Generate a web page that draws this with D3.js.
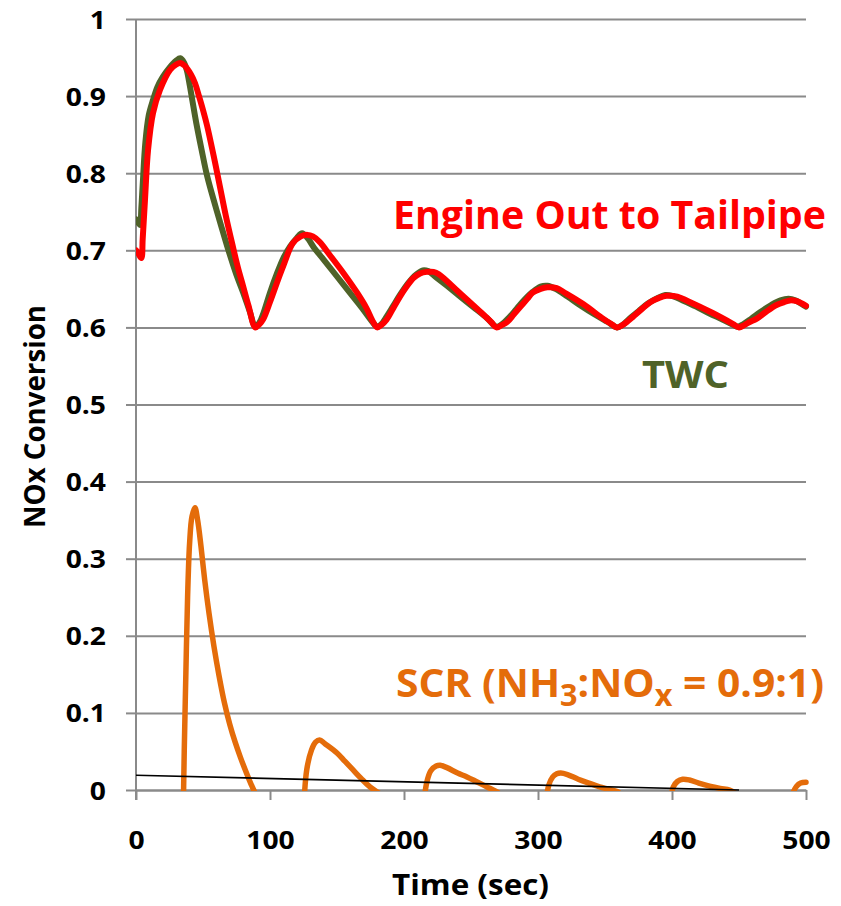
<!DOCTYPE html>
<html>
<head>
<meta charset="utf-8">
<script src="https://cdn.jsdelivr.net/npm/d3@7"></script>
<style>
  html, body { margin: 0; padding: 0; background: #ffffff; }
  svg { display: block; }
  text { font-family: "Open Sans", "Liberation Sans", sans-serif; font-weight: 700; }
</style>
</head>
<body>
<svg id="chart" width="841" height="906"></svg>
<script>
// ---- axis ticks ----
const xTicks = [0, 100, 200, 300, 400, 500];
const xTickLabels = ["0", "100", "200", "300", "400", "500"];
const yTicks = [0, 0.1, 0.2, 0.3, 0.4, 0.5, 0.6, 0.7, 0.8, 0.9, 1];
const yTickLabels = ["0", "0.1", "0.2", "0.3", "0.4", "0.5", "0.6", "0.7", "0.8", "0.9", "1"];

// ---- series: [time (sec), NOx conversion] ----
const twc = [
  [0, 0.740], [2, 0.735], [3, 0.733], [4, 0.755], [5, 0.785], [7, 0.840], [9.5, 0.875], [12.7, 0.895],
  [16, 0.912], [20, 0.925], [25, 0.937], [30, 0.946], [33, 0.949], [36, 0.943], [38, 0.933],
  [40, 0.915], [42, 0.895], [45, 0.865], [49, 0.830], [53, 0.797], [58, 0.765], [63, 0.735],
  [69, 0.700], [75, 0.668], [80, 0.645], [85, 0.620], [89, 0.601], [92, 0.606], [95, 0.618],
  [100, 0.645], [105, 0.669], [110, 0.690], [115, 0.705], [120, 0.716], [124, 0.722], [128, 0.716],
  [133, 0.703], [140, 0.688], [150, 0.666], [160, 0.644], [170, 0.622], [176, 0.608], [180, 0.601],
  [183, 0.604], [187, 0.614], [192, 0.628], [197, 0.642], [203, 0.657], [208, 0.667], [214, 0.674],
  [218, 0.673], [224, 0.665], [232, 0.654], [242, 0.640], [252, 0.626], [262, 0.612], [269, 0.601],
  [273, 0.604], [278, 0.612], [284, 0.624], [290, 0.636], [296, 0.646], [302, 0.653], [307, 0.654],
  [313, 0.650], [322, 0.640], [332, 0.628], [342, 0.617], [352, 0.607], [359, 0.600], [363, 0.603],
  [368, 0.611], [375, 0.621], [382, 0.631], [389, 0.638], [395, 0.642], [400, 0.641], [408, 0.635],
  [418, 0.627], [428, 0.618], [438, 0.610], [446, 0.603], [449, 0.601], [453, 0.604], [459, 0.611],
  [466, 0.620], [474, 0.629], [481, 0.635], [487, 0.637], [492, 0.635], [497, 0.630], [500, 0.627]
];

const engineOut = [
  [0, 0.700], [2, 0.695], [4, 0.690], [5, 0.715], [6.7, 0.765], [9, 0.830], [12.7, 0.878],
  [17.9, 0.908], [25.4, 0.934], [30, 0.941], [33, 0.943], [36, 0.940], [38, 0.936], [41, 0.928],
  [44, 0.917], [47, 0.900], [50, 0.882], [53, 0.862], [58, 0.822], [62.7, 0.782], [67, 0.745],
  [72.4, 0.704], [76, 0.678], [80, 0.653], [84, 0.628], [89, 0.600], [92, 0.604], [95, 0.611],
  [100, 0.633], [105, 0.657], [110, 0.680], [117, 0.709], [123, 0.718], [128, 0.720], [132, 0.718],
  [137, 0.711], [145, 0.693], [155, 0.670], [165, 0.645], [172, 0.625], [177, 0.607],
  [180, 0.600], [183, 0.603], [187, 0.610], [192, 0.625], [197, 0.640], [202, 0.653], [207, 0.664],
  [212, 0.670], [217, 0.672], [222, 0.672], [226, 0.669], [242, 0.644], [259, 0.617],
  [265, 0.607], [269, 0.600], [273, 0.603], [277, 0.607], [282, 0.617], [287, 0.627],
  [292, 0.637], [296, 0.645], [302, 0.650], [307, 0.652], [314, 0.651], [320, 0.645],
  [334, 0.630], [348, 0.612], [355, 0.604], [359, 0.600], [363, 0.603],
  [367, 0.608], [371, 0.614], [377, 0.623], [384, 0.633], [390, 0.638], [396, 0.641], [404, 0.640],
  [412, 0.634], [430, 0.619], [445, 0.605], [450, 0.600], [454, 0.603],
  [458, 0.607], [463, 0.611], [470, 0.620], [478, 0.629], [484, 0.633], [488, 0.635], [493, 0.634],
  [497, 0.631], [500, 0.628]
];

// SCR humps; values dip below zero between humps (clipped at the axis), null breaks the path
const scr = [
  [35.0, -0.06], [36, 0.05], [37.2, 0.15], [38.5, 0.25], [40, 0.320], [41.8, 0.355], [44, 0.366],
  [46, 0.350], [48.5, 0.316], [51.3, 0.272], [54.5, 0.229], [58.2, 0.186], [62, 0.148], [66, 0.113],
  [70, 0.085], [74, 0.062], [78, 0.042], [82, 0.024], [86, 0.007], [89, -0.004], [92, -0.012], [95, null],
  [125, -0.03], [127.4, 0.026], [131, 0.052], [134, 0.062], [137, 0.065], [141, 0.060], [150, 0.048],
  [156, 0.037], [162, 0.026], [168, 0.015], [174.6, 0.004], [182, -0.005], [185, -0.010], [188, null],
  [214, -0.03], [217, 0.010], [220, 0.025], [224, 0.031], [227, 0.032], [232, 0.029], [240, 0.022],
  [247, 0.017], [255, 0.010], [262, 0.004], [269, -0.002], [272, -0.006], [275, null],
  [305, -0.03], [308, 0.006], [311, 0.017], [314, 0.021], [317, 0.022], [322, 0.020], [330, 0.014],
  [338, 0.009], [346, 0.004], [353, 0.001], [359, -0.002], [362, -0.006], [365, null],
  [398, -0.03], [401, 0.004], [404, 0.011], [408, 0.014], [413, 0.013], [420, 0.009], [428, 0.005],
  [436, 0.002], [443, 0.000], [447, -0.004], [450, null],
  [487, -0.03], [490, -0.005], [493, 0.005], [496, 0.009], [500, 0.010]
];

const trend = [[0, 0.0192], [450, 0.0]];

// ---- layout ----
const svg = d3.select("#chart");
const plot = { left: 136, right: 806, top: 19, bottom: 790 };
const x = d3.scaleLinear().domain([0, 500]).range([plot.left, plot.right]);
const y = d3.scaleLinear().domain([0, 1]).range([plot.bottom, plot.top]);

const gridColor = "#8a8a8a";
const tickFont = 25;
const stretch = 1.13;

function widen(sel, factor) {
  sel.each(function () {
    const w = this.getComputedTextLength();
    d3.select(this).attr("textLength", w * factor).attr("lengthAdjust", "spacingAndGlyphs");
  });
}

// horizontal gridlines (extend left of the axis as tick marks)
svg.append("g")
  .attr("transform", `translate(${plot.left},0)`)
  .call(d3.axisLeft(y).tickValues(yTicks).tickSizeInner(-(plot.right - plot.left)).tickSizeOuter(0).tickFormat(""))
  .call(g => g.select(".domain").remove())
  .call(g => g.selectAll("line").attr("stroke", gridColor).attr("stroke-width", 2));

// y axis with labels
const yAxisG = svg.append("g")
  .attr("transform", `translate(${plot.left},0)`)
  .call(d3.axisLeft(y).tickValues(yTicks).tickFormat((d, i) => yTickLabels[i]).tickSize(10).tickSizeOuter(0).tickPadding(20));
yAxisG.select(".domain").attr("stroke", gridColor).attr("stroke-width", 2)
  .attr("d", `M0,${plot.top}V${plot.bottom + 10}`);
yAxisG.selectAll("line").attr("stroke", gridColor).attr("stroke-width", 2);
yAxisG.selectAll("text").attr("font-size", tickFont).attr("fill", "#000").attr("dy", "0.36em")
  .style("font-family", "'Open Sans', sans-serif").style("font-weight", 700)
  .call(widen, stretch);

// x axis
const xAxisG = svg.append("g")
  .attr("transform", `translate(0,${plot.bottom})`)
  .call(d3.axisBottom(x).tickValues(xTicks).tickFormat((d, i) => xTickLabels[i]).tickSize(10).tickSizeOuter(0).tickPadding(31));
xAxisG.select(".domain").attr("stroke", gridColor).attr("stroke-width", 2);
xAxisG.selectAll("line").attr("stroke", gridColor).attr("stroke-width", 2);
xAxisG.selectAll("text").attr("font-size", tickFont).attr("fill", "#000").attr("dy", "0.71em")
  .style("font-family", "'Open Sans', sans-serif").style("font-weight", 700)
  .call(widen, stretch);

// axis titles
svg.append("text")
  .attr("x", 470.5).attr("y", 895)
  .attr("text-anchor", "middle").attr("font-size", 28).attr("fill", "#000")
  .attr("textLength", 157).attr("lengthAdjust", "spacingAndGlyphs")
  .text("Time (sec)");

svg.append("text")
  .attr("transform", "translate(45,416.5) rotate(-90)")
  .attr("text-anchor", "middle").attr("font-size", 29).attr("fill", "#000")
  .attr("textLength", 223).attr("lengthAdjust", "spacingAndGlyphs")
  .text("NOx Conversion");

// ---- series ----
svg.append("defs").append("clipPath").attr("id", "plotClip")
  .append("rect")
  .attr("x", plot.left).attr("y", plot.top - 6)
  .attr("width", plot.right - plot.left + 6).attr("height", plot.bottom - plot.top + 7);

const line = d3.line()
  .defined(d => d[1] !== null)
  .x(d => x(d[0]))
  .y(d => y(d[1]))
  .curve(d3.curveCatmullRom.alpha(0.5));

const series = svg.append("g").attr("clip-path", "url(#plotClip)");

series.append("path").datum(scr)
  .attr("d", line).attr("fill", "none").attr("stroke", "#E46C0A").attr("stroke-width", 5.5)
  .attr("stroke-linejoin", "round").attr("stroke-linecap", "round");

series.append("path").datum(trend)
  .attr("d", d3.line().x(d => x(d[0])).y(d => y(d[1])))
  .attr("fill", "none").attr("stroke", "#000").attr("stroke-width", 1.6);

series.append("path").datum(twc)
  .attr("d", line).attr("fill", "none").attr("stroke", "#4F6228").attr("stroke-width", 6)
  .attr("stroke-linejoin", "round").attr("stroke-linecap", "round");

series.append("path").datum(engineOut)
  .attr("d", line).attr("fill", "none").attr("stroke", "#FF0000").attr("stroke-width", 6)
  .attr("stroke-linejoin", "round").attr("stroke-linecap", "round");

// ---- series labels ----
svg.append("text")
  .attr("x", 393).attr("y", 229)
  .attr("font-size", 39).attr("fill", "#FF0000")
  .attr("textLength", 433).attr("lengthAdjust", "spacingAndGlyphs")
  .text("Engine Out to Tailpipe");

svg.append("text")
  .attr("x", 642).attr("y", 388)
  .attr("font-size", 37).attr("fill", "#4F6228")
  .attr("textLength", 87).attr("lengthAdjust", "spacingAndGlyphs")
  .text("TWC");

const scrLabel = svg.append("text")
  .attr("x", 396).attr("y", 697)
  .attr("font-size", 40).attr("fill", "#E46C0A")
  .attr("textLength", 428).attr("lengthAdjust", "spacingAndGlyphs");
scrLabel.append("tspan").text("SCR (NH");
scrLabel.append("tspan").attr("font-size", 30).attr("dy", 9).text("3");
scrLabel.append("tspan").attr("dy", -9).text(":NO");
scrLabel.append("tspan").attr("font-size", 30).attr("dy", 9).text("x");
scrLabel.append("tspan").attr("dy", -9).text(" = 0.9:1)");
</script>
</body>
</html>
